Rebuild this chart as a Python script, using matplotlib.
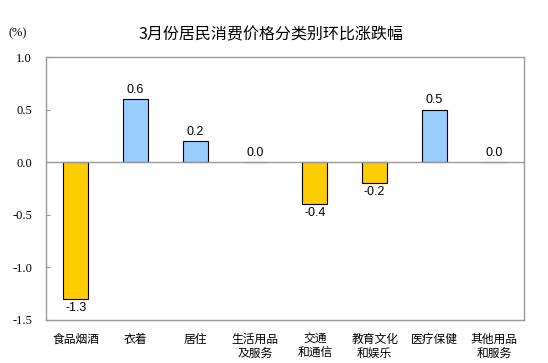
import matplotlib
matplotlib.use('Agg')
import matplotlib.pyplot as plt

categories = ['食品烟酒', '衣着', '居住', '生活用品\n及服务', '交通\n和通信', '教育文化\n和娱乐', '医疗保健', '其他用品\n和服务']
values = [-1.3, 0.6, 0.2, 0.0, -0.4, -0.2, 0.5, 0.0]
yticks = [1.0, 0.5, 0.0, -0.5, -1.0, -1.5]

cjk = ['Noto Sans CJK SC', 'DejaVu Sans']

fig = plt.figure(figsize=(5.48, 3.63), dpi=100)
ax = fig.add_axes([46/548, 1-320/363, (524-46)/548, (320-57)/363])

colors = ['#FFCC00' if v < 0 else '#99CCFF' for v in values]
x = range(len(values))
ax.bar(x, values, width=0.42, color=colors, edgecolor='black', linewidth=0.8, zorder=3)
ax.axhline(0, color='#999999', linewidth=1.0, zorder=4)

for i, v in enumerate(values):
    if v < 0:
        ax.text(i, v - 0.03, '%.1f' % v, ha='center', va='top', fontsize=9,
                family='Liberation Sans')
    else:
        ax.text(i, v + 0.03, '%.1f' % v, ha='center', va='bottom', fontsize=9,
                family='Liberation Sans')

ax.set_xlim(-0.5, len(values) - 0.5)
ax.set_ylim(-1.5, 1.0)
ax.set_yticks(yticks)
ax.set_yticklabels(['%.1f' % t for t in yticks], family='Liberation Serif', fontsize=9)
ax.tick_params(axis='y', direction='in', length=3, color='#999999', pad=10)
ax.set_xticks(list(x))
ax.set_xticklabels(categories, family=cjk, fontsize=8.5, linespacing=1.1, va='top')
ax.tick_params(axis='x', length=0, pad=9)
for s in ax.spines.values():
    s.set_color('#999999')
    s.set_linewidth(1.0)

fig.text(271/548, 1-35/363, '3月份居民消费价格分类别环比涨跌幅', ha='center', va='center',
         fontsize=11.5, family=cjk)
fig.text(18/548, 1-33/363, '(%)', ha='center', va='center', fontsize=9, family='Liberation Serif')

fig.savefig('out.png', dpi=100)
